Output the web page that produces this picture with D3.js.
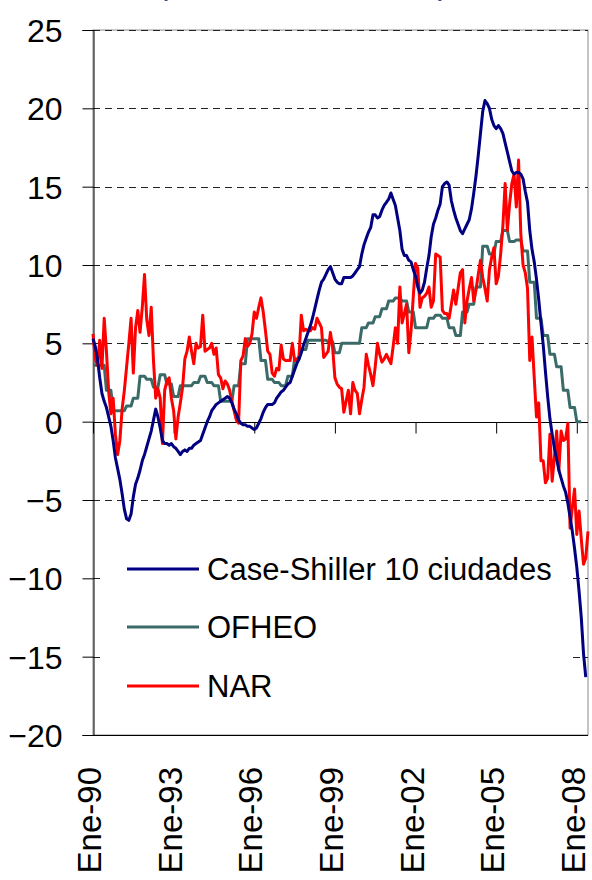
<!DOCTYPE html>
<html><head><meta charset="utf-8">
<script src="https://cdn.jsdelivr.net/npm/d3@7"></script>
<style>
html,body{margin:0;padding:0;background:#fff;}
svg{display:block;}
text{font-family:"Liberation Sans",Arial,sans-serif;}
</style></head>
<body>
<svg id="chart" width="592" height="880"></svg>
<script>
// ---- DATA (monthly from Jan 1990) ----
const titleText = "(variación anual, %)";
const xTickMonths = [0, 36, 72, 108, 144, 180, 216];
const xTickLabels = ["Ene-90","Ene-93","Ene-96","Ene-99","Ene-02","Ene-05","Ene-08"];
const yTicks = [-20,-15,-10,-5,0,5,10,15,20,25];
const seriesNames = ["Case-Shiller 10 ciudades","OFHEO","NAR"];

const caseShiller = [
5.3,4.8,4.0,2.8,1.8,1.3,0.9,0.3,-0.3,-1.2,-2.3,-3.0,-3.7,-4.6,-5.6,-6.2,-6.3,-5.9,-4.8,-4.0,
-3.6,-3.1,-2.5,-2.1,-1.6,-1.1,-0.6,0.1,0.8,0.3,-0.4,-1.2,-1.4,-1.4,-1.5,-1.4,-1.6,-1.7,-1.9,-2.1,
-1.9,-1.8,-1.9,-1.7,-1.7,-1.5,-1.4,-1.3,-1.2,-0.8,-0.4,0.0,0.3,0.7,0.9,1.1,1.2,1.3,1.4,1.5,
1.6,1.5,1.2,0.8,0.5,0.1,-0.1,-0.2,-0.2,-0.3,-0.3,-0.4,-0.5,-0.4,-0.1,0.2,0.6,0.9,1.1,1.1,
1.1,1.2,1.5,1.7,1.9,2.0,2.2,2.4,2.5,2.9,3.3,3.7,4.0,4.4,4.9,5.3,5.7,6.1,6.6,7.2,
7.8,8.4,8.9,9.1,9.4,9.7,9.9,9.5,9.1,8.9,8.8,8.8,9.2,9.2,9.2,9.2,9.3,9.5,9.7,9.9,
10.7,11.3,11.7,12.1,12.4,13.2,13.2,13.0,13.1,13.5,13.8,14.0,14.2,14.6,14.2,13.8,13.0,12.2,11.0,10.6,
10.6,10.3,10.2,9.7,9.3,8.6,8.2,8.4,8.9,9.8,10.6,11.8,12.6,13.0,13.5,13.9,15.0,15.2,15.3,15.1,
14.1,13.5,13.0,12.6,12.2,12.0,12.3,12.6,12.9,13.6,14.6,15.7,17.0,18.4,19.8,20.5,20.3,20.0,19.3,18.9,
18.7,18.9,18.7,18.4,17.8,17.2,16.6,16.0,15.8,15.9,15.9,15.8,15.5,14.7,14.0,12.2,11.0,10.2,9.1,7.8,
6.3,4.9,3.2,1.6,0.2,-0.8,-1.7,-2.4,-3.1,-3.6,-4.1,-4.5,-5.2,-6.1,-7.0,-8.1,-9.3,-10.8,-12.5,-14.8,
-16.3
];

// OFHEO published quarterly (Q1 1990 ... Q1 2008)
const ofheoQuarterly = [
3.6,3.6,2.0,0.7, 0.7,1.0,1.5,2.9, 2.7,2.2,3.0,2.4, 1.6,2.3,2.3,2.5, 2.9,2.5,2.3,1.3,
1.3,2.3,3.7,5.3, 5.3,3.9,2.7,2.5, 2.3,2.9,4.0,4.6, 5.2,5.2,5.2,5.1, 4.4,5.0,5.0,5.0,
6.0,6.3,6.7,7.2, 7.7,7.9,7.7,7.0, 6.0,6.0,6.6,6.8, 6.6,6.0,5.5,7.0, 7.5,8.6,11.2,10.7,
11.5,12.2,11.5,11.6, 10.9,8.9,6.6,5.5, 4.3,3.5,2.0,0.9, 0.0
];

const nar = [
5.6,4.0,3.6,5.2,3.4,6.6,4.5,1.9,0.5,1.5,-0.8,-2.1,-1.2,0.8,2.0,3.5,5.0,6.6,3.1,6.0,
7.1,5.7,7.3,9.4,6.5,5.5,7.3,3.9,1.5,2.1,1.5,-1.4,2.0,2.6,2.8,1.5,0.7,-1.1,0.3,1.2,
2.2,4.0,4.5,5.4,4.5,3.7,5.0,4.7,4.8,6.8,4.5,4.6,4.7,5.0,4.3,4.7,3.0,2.8,2.1,2.6,
2.4,2.0,1.3,0.7,0.1,-0.1,3.9,4.2,5.3,4.8,5.0,5.6,7.0,6.6,7.3,7.9,7.0,5.8,4.5,4.3,
3.1,2.9,3.4,3.3,4.9,4.0,3.9,3.9,3.9,5.0,3.9,3.9,4.2,6.8,5.8,5.9,5.8,5.8,6.0,5.9,
6.6,6.3,6.0,4.1,4.3,4.5,5.7,4.7,2.8,2.4,2.2,2.1,0.6,1.3,2.0,0.5,2.5,2.0,1.8,0.5,
1.4,2.2,4.3,3.6,3.0,2.3,3.5,5.0,4.3,3.8,4.0,4.3,4.0,3.7,4.8,6.0,5.0,8.6,6.3,6.9,
7.5,4.4,5.8,8.0,10.1,9.8,7.3,7.9,8.0,8.2,8.6,7.3,7.7,10.7,10.6,10.5,7.1,6.9,6.9,6.6,
7.5,8.4,7.5,8.5,9.5,9.7,6.3,7.7,8.5,9.2,7.7,8.4,9.4,10.3,9.2,8.5,7.7,9.7,10.5,11.1,
8.8,9.3,10.7,12.5,15.2,12.2,13.9,15.2,15.8,13.7,16.7,12.0,10.0,9.5,8.5,3.9,5.4,2.8,0.3,1.2,
-2.5,-2.5,-3.9,-3.6,-0.8,-3.8,-2.3,-0.6,-3.1,-0.6,-1.2,-1.1,-0.1,-6.8,-5.5,-4.3,-7.2,-5.7,-7.5,-9.1,
-8.7,-7.0
];

const colors = ["#000080","#3B6B68","#FF0000"];

// ---- LAYOUT ----
const L = 93, R = 588, T = 30, B = 735;
const svg = d3.select("#chart");
const x = d3.scaleLinear().domain([0, 221]).range([L, R]);
const y = d3.scaleLinear().domain([-20, 25]).range([B, T]);

// title (mostly cut off at top)
svg.append("text").attr("x", 157).attr("y", -6.5)
  .attr("font-size", 33).attr("fill", "#234E94").text(titleText);

// plot border
svg.append("rect").attr("x", L).attr("y", T).attr("width", R - L).attr("height", B - T)
  .attr("fill", "none").attr("stroke", "#8a8a8a").attr("stroke-width", 1);

// gridlines (dashed)
svg.append("g").selectAll("line").data(yTicks.filter(v => v !== 0 && v !== -20))
  .join("line")
  .attr("x1", L).attr("x2", R)
  .attr("y1", d => Math.round(y(d)) + 0.5).attr("y2", d => Math.round(y(d)) + 0.5)
  .attr("stroke", "#222").attr("stroke-width", 1).attr("stroke-dasharray", "7,5");

// bottom line
svg.append("line").attr("x1", L).attr("x2", R)
  .attr("y1", Math.round(y(-20)) + 0.5).attr("y2", Math.round(y(-20)) + 0.5)
  .attr("stroke", "#000").attr("stroke-width", 1);

// legend box (white, hides gridlines)
const leg = svg.append("g");
leg.append("rect").attr("x", 100).attr("y", 522).attr("width", 469).attr("height", 200)
  .attr("fill", "#fff");

// y axis
const yAxis = d3.axisLeft(y).tickValues(yTicks).tickSize(11).tickPadding(20)
  .tickFormat(d3.format("d"));
const gy = svg.append("g").attr("transform", `translate(${L + 0.5},0)`).call(yAxis);
gy.select(".domain").attr("stroke", "#000");
gy.selectAll(".tick line").attr("stroke", "#000");
gy.selectAll(".tick text").attr("font-size", 32).attr("fill", "#000")
  .attr("font-family", "Liberation Sans, Arial, sans-serif").attr("dy", "0.36em");

// x axis at zero
const xAxis = d3.axisBottom(x).tickValues(xTickMonths).tickSize(11).tickFormat("");
const gx = svg.append("g").attr("transform", `translate(0,${Math.round(y(0)) + 0.5})`).call(xAxis);
gx.select(".domain").attr("stroke", "#000").attr("d", `M${L},0H${R}`);
gx.selectAll(".tick line").attr("stroke", "#000");

// x labels rotated
svg.append("g").selectAll("text").data(xTickMonths).join("text")
  .attr("transform", d => `translate(${x(d) + 8},767) rotate(-90)`)
  .attr("text-anchor", "end").attr("font-size", 33).attr("fill", "#000")
  .text((d, i) => xTickLabels[i]);

// series
const ofheoMonthly = [];
ofheoQuarterly.forEach(v => { ofheoMonthly.push(v, v, v); });
const ofheo = ofheoMonthly.slice(0, 219);

const line = d3.line().x((d, i) => x(i)).y(d => y(d));
const data = [caseShiller, ofheo, nar];
[1, 2, 0].forEach(k => {
  svg.append("path").datum(data[k]).attr("d", line)
    .attr("fill", "none").attr("stroke", colors[k]).attr("stroke-width", 3)
    .attr("stroke-linejoin", "round");
});

// legend entries
const legY = [569, 627, 686];
seriesNames.forEach((n, i) => {
  leg.append("line").attr("x1", 127).attr("x2", 199).attr("y1", legY[i]).attr("y2", legY[i])
    .attr("stroke", colors[i]).attr("stroke-width", 3);
  leg.append("text").attr("x", 207).attr("y", legY[i] + 10.5)
    .attr("font-size", 31).attr("fill", "#000").text(n);
});
</script>
</body></html>
